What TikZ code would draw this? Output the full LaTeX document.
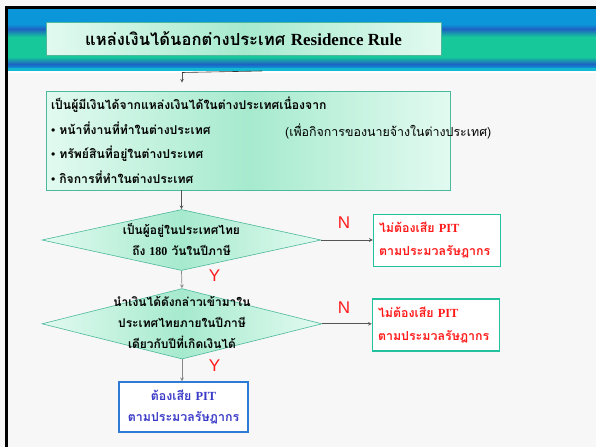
\documentclass[tikz,border=0pt]{standalone}
\usepackage{fontspec}
\usetikzlibrary{shapes.geometric}
\setmainfont{Liberation Serif}
\newfontfamily\thai[Script=Thai]{Loma}
\newfontfamily\arial{Liberation Sans}
\newcommand\lat[1]{{\rmfamily #1}}
\definecolor{pagebg}{HTML}{F7F7F7}
\definecolor{hblue}{HTML}{0A96D8}
\definecolor{hdark}{HTML}{1E62C2}
\definecolor{hteal}{HTML}{16C89A}
\definecolor{hcyan}{HTML}{14B8D0}
\definecolor{mintlight}{HTML}{E2FAF0}
\definecolor{mintdark}{HTML}{A6EACE}
\definecolor{mintedge}{HTML}{4DB89C}
\definecolor{noedge}{HTML}{22C29E}
\definecolor{nored}{HTML}{FF1A1A}
\definecolor{yesedge}{HTML}{2E7BD6}
\definecolor{yesblue}{HTML}{3A3AC8}
\definecolor{linegray}{HTML}{555555}
\begin{document}
\begin{tikzpicture}[x=1pt,y=-1pt,>=stealth,
  flow/.style={->,draw=linegray,line width=0.7pt},
  mintbox/.style={draw=mintedge,line width=0.6pt,left color=mintlight,right color=mintlight,middle color=mintdark},
  query/.style={diamond,mintbox,inner sep=0pt},
  querytext/.style={font=\thai\bfseries\fontsize{12}{21}\selectfont,align=center},
  nobox/.style={draw=noedge,line width=1.4pt,fill=white,minimum width=127pt,minimum height=52pt,
    text width=116pt,align=left,text=nored,font=\thai\bfseries\fontsize{12.4}{23}\selectfont},
  yesbox/.style={draw=yesedge,line width=1.4pt,fill=white,minimum width=129pt,minimum height=50pt,
    align=center,text=yesblue,font=\thai\bfseries\fontsize{12.4}{21}\selectfont},
  yn/.style={font=\arial\fontsize{17}{17}\selectfont,text=nored}]
\useasboundingbox (0,0) rectangle (596,447);
\fill [pagebg] (0,0) rectangle (596,447);
% slide frame and header band
\fill [black] (5,6) rectangle (8,447);
\fill [black] (5,6) rectangle (596,8.5);
\fill [hblue] (8,8.5) rectangle (596,24);
\shade [top color=hblue,bottom color=hdark] (8,24) rectangle (596,29);
\shade [top color=hdark,bottom color=hteal] (8,29) rectangle (596,37);
\fill [hteal] (8,37) rectangle (596,57);
\shade [top color=hteal,bottom color=hdark] (8,57) rectangle (596,64);
\shade [top color=hdark,bottom color=hblue] (8,64) rectangle (596,68);
\fill [hcyan] (8,68) rectangle (596,70.5);
\fill [white] (8,70.5) rectangle (596,72.5);
\draw [black!80,line width=0.6pt] (182,72.5) -- (262,71);
% title
\node (title) [mintbox,minimum width=395pt,minimum height=33pt,inner sep=0pt] at (243.5,38.5)
  {\thai\bfseries\fontsize{16.6}{16}\selectfont แหล่งเงินได้นอกต่างประเทศ \lat{\fontsize{17}{17}\selectfont Residence Rule}};
% source of income
\node (source) [mintbox,minimum width=404pt,minimum height=99pt,text width=394pt,align=left,
  font=\thai\bfseries\fontsize{12.2}{24.5}\selectfont] at (248,140.5)
  {เป็นผู้มีเงินได้จากแหล่งเงินได้ในต่างประเทศเนื่องจาก\\
   \lat{\textbullet} หน้าที่งานที่ทำในต่างประเทศ\\
   \lat{\textbullet} ทรัพย์สินที่อยู่ในต่างประเทศ\\
   \lat{\textbullet} กิจการที่ทำในต่างประเทศ};
\node (employer) [anchor=west,inner sep=0pt,font=\thai\fontsize{12.4}{14}\selectfont] at (285,131)
  {(เพื่อกิจการของนายจ้างในต่างประเทศ)};
% questions
\node (stay) [query,minimum width=279pt,minimum height=61pt] at (181.5,240) {};
\node (staytext) [querytext] at (181.5,240) {เป็นผู้อยู่ในประเทศไทย\\ถึง \lat{180} วันในปีภาษี};
\node (bring) [query,minimum width=280pt,minimum height=70.5pt] at (182,323.8) {};
\node (bringtext) [querytext] at (182,322.5)
  {นำเงินได้ดังกล่าวเข้ามาใน\\ประเทศไทยภายในปีภาษี\\เดียวกับปีที่เกิดเงินได้};
% answers
\node (nopit1) [nobox] at (437,240.5) {ไม่ต้องเสีย \lat{PIT}\\ตามประมวลรัษฎากร};
\node (nopit2) [nobox] at (436,324.8) {ไม่ต้องเสีย \lat{PIT}\\ตามประมวลรัษฎากร};
\node (pit) [yesbox] at (183.5,407) {ต้องเสีย \lat{PIT}\\ตามประมวลรัษฎากร};
\node (n1) [yn] at (344,223) {N};
\node (n2) [yn] at (344,307.5) {N};
\node (y1) [yn] at (214.5,276) {Y};
\node (y2) [yn] at (214.5,366) {Y};
% connectors
\coordinate (hdr) at (182,72.5);
\draw [flow,shorten >=8pt] (hdr) -- (hdr |- source.north);
\draw [flow] (source.south -| stay.north) -- (stay.north);
\draw [flow,linegray!70] (stay.south) -- (bring.north);
\draw [flow,linegray!70] (bring.south) -- (bring.south |- pit.north);
\draw [flow] (stay.east) -- (nopit1.west |- stay.east);
\draw [flow] (bring.east) -- (nopit2.west |- bring.east);
\end{tikzpicture}
\end{document}
